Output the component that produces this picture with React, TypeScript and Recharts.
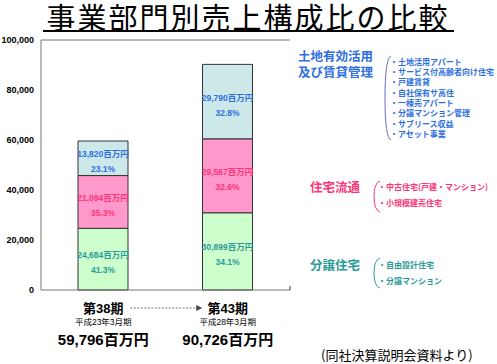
import {
  ComposedChart,
  Bar,
  XAxis,
  YAxis,
  LabelList,
  ReferenceLine,
} from "recharts";

const periods = ["第38期", "第43期"];
const periodDates = ["平成23年3月期", "平成28年3月期"];
const periodTotals = ["59,796百万円", "90,726百万円"];

// 分譲住宅 / 住宅流通 / 土地有効活用及び賃貸管理 (百万円)
const bunjo = [24684, 30899];
const ryutsu = [21094, 29567];
const chintai = [13820, 29790];
const bunjoPct = [41.3, 34.1];
const ryutsuPct = [35.3, 32.6];
const chintaiPct = [23.1, 32.8];

const yTicks = [0, 20000, 40000, 60000, 80000, 100000];

const chintaiTitle = ["土地有効活用", "及び賃貸管理"];
const chintaiItems = [
  "・土地活用アパート",
  "・サービス付高齢者向け住宅",
  "・戸建賃貸",
  "・自社保有サ高住",
  "・一棟売アパート",
  "・分譲マンション管理",
  "・サブリース収益",
  "・アセット事業",
];
const ryutsuItems = ["・中古住宅(戸建・マンション)", "・小規模建売住宅"];
const bunjoItems = ["・自由設計住宅", "・分譲マンション"];

const data = periods.map((p, i) => ({
  name: p,
  bunjo: bunjo[i],
  ryutsu: ryutsu[i],
  chintai: chintai[i],
}));

const FONT = '"Liberation Sans", "Noto Sans CJK JP", sans-serif';
const JP = '"Noto Sans CJK JP", sans-serif';

const fmt = (v: number) => v.toLocaleString("en-US");

function segLabel(values: number[], pcts: number[], color: string) {
  return (props: any) => {
    const { x, y, width, height, index } = props;
    const cx = x + width / 2;
    const cy = y + height / 2;
    return (
      <g fontFamily={FONT} fontSize={8.5} fontWeight="bold" fill={color}>
        <text x={cx} y={cy - 4} textAnchor="middle" dominantBaseline="central">
          {fmt(values[index])}百万円
        </text>
        <text x={cx} y={cy + 11} textAnchor="middle" dominantBaseline="central">
          {pcts[index].toFixed(1)}%
        </text>
      </g>
    );
  };
}

function PeriodTick(props: any) {
  const { x, y, payload } = props;
  const i = payload.index;
  return (
    <g fontFamily={FONT} fill="#000">
      <text x={x} y={y + 16} textAnchor="middle" dominantBaseline="central" fontSize={13} fontWeight="bold">
        {periods[i]}
      </text>
      <text x={x} y={y + 30} textAnchor="middle" dominantBaseline="central" fontSize={8.5}>
        {periodDates[i]}
      </text>
      <text x={x} y={y + 47} textAnchor="middle" dominantBaseline="central" fontSize={15} fontWeight="bold">
        {periodTotals[i]}
      </text>
      {i === 0 && (
        <g>
          <line x1={x + 27} y1={y + 16} x2={x + 94} y2={y + 16} stroke="#777" strokeDasharray="2 1.5" />
          <polygon points={`${x + 99},${y + 16} ${x + 93},${y + 13} ${x + 93},${y + 19}`} fill="#444" />
        </g>
      )}
    </g>
  );
}

function Bracket({ left, top, height, color }: { left: number; top: number; height: number; color: string }) {
  return (
    <svg style={{ position: "absolute", left, top }} width={8} height={height}>
      <path
        d={`M7,1 Q1,3 1,${height / 2} Q1,${height - 3} 7,${height - 1}`}
        fill="none"
        stroke={color}
        strokeWidth={1}
      />
    </svg>
  );
}

function ItemList({ items, left, top, step, color, size = 8, bold = true }: { items: string[]; left: number; top: number; step: number; color: string; size?: number; bold?: boolean }) {
  return (
    <>
      {items.map((t, i) => (
        <div
          key={t}
          style={{
            position: "absolute",
            left,
            top: top + i * step - step / 2,
            height: step,
            lineHeight: `${step}px`,
            fontSize: size,
            fontWeight: bold ? "bold" : "normal",
            color,
            fontFamily: JP,
            whiteSpace: "nowrap",
          }}
        >
          {t}
        </div>
      ))}
    </>
  );
}

const top1 = bunjo[0];
const top2 = bunjo[1];
const mid1 = bunjo[0] + ryutsu[0];
const mid2 = bunjo[1] + ryutsu[1];
const tot1 = mid1 + chintai[0];
const tot2 = mid2 + chintai[1];

export default function App() {
  const blue = "#2f6fe0";
  const pink = "#ff3377";
  const teal = "#2a9a9a";
  return (
    <div style={{ position: "absolute", left: 0, top: 0, width: 497, height: 364, background: "#fff", overflow: "hidden" }}>
      <div
        style={{
          position: "absolute",
          left: 42,
          top: 0,
          width: 412,
          height: 32,
          lineHeight: "32px",
          textAlign: "center",
          fontFamily: JP,
          fontSize: 29,
          fontWeight: 400,
          letterSpacing: 2,
          color: "#000",
          whiteSpace: "nowrap",
        }}
      >
        事業部門別売上構成比の比較
      </div>
      <div style={{ position: "absolute", left: 43, top: 30, width: 411, height: 2, background: "#000" }} />
      <div style={{ position: "absolute", left: 0, top: 0 }}>
        <ComposedChart width={497} height={364} data={data} margin={{ top: 40, right: 207, bottom: 0, left: 0 }}>
          <XAxis
            xAxisId="c"
            dataKey="name"
            axisLine={false}
            tickLine={false}
            tickSize={0}
            height={74}
            interval={0}
            tick={<PeriodTick />}
          />
          <XAxis xAxisId="n" type="number" domain={[0, 2]} hide allowDataOverflow />
          <YAxis
            domain={[0, 100000]}
            ticks={yTicks}
            width={41}
            axisLine={false}
            tickLine={false}
            tickSize={0}
            tickMargin={7}
            tickFormatter={fmt}
            tick={{ fontSize: 9, fontWeight: "bold", fill: "#000", fontFamily: FONT }}
            interval={0}
          />
          {/* plot frame */}
          <ReferenceLine xAxisId="n" y={100000} stroke="#777" />
          <ReferenceLine xAxisId="n" y={0} stroke="#777" />
          <ReferenceLine xAxisId="n" x={0} stroke="#777" />
          <ReferenceLine xAxisId="n" x={2} stroke="#777" />
          <Bar xAxisId="c" dataKey="bunjo" stackId="s" fill="#ccffcc" stroke="#333" strokeWidth={1} barSize={50} isAnimationActive={false}>
            <LabelList content={segLabel(bunjo, bunjoPct, teal)} />
          </Bar>
          <Bar xAxisId="c" dataKey="ryutsu" stackId="s" fill="#ff99cc" stroke="#333" strokeWidth={1} barSize={50} isAnimationActive={false}>
            <LabelList content={segLabel(ryutsu, ryutsuPct, pink)} />
          </Bar>
          <Bar xAxisId="c" dataKey="chintai" stackId="s" fill="#cce8e8" stroke="#333" strokeWidth={1} barSize={50} isAnimationActive={false}>
            <LabelList content={segLabel(chintai, chintaiPct, blue)} />
          </Bar>
          <ReferenceLine xAxisId="n" segment={[{ x: 0.7, y: tot1 }, { x: 1.3, y: tot2 }]} stroke="#aaa" strokeWidth={1} />
          <ReferenceLine xAxisId="n" segment={[{ x: 0.7, y: mid1 }, { x: 1.3, y: mid2 }]} stroke="#666" strokeDasharray="2 1.5" strokeWidth={1} />
          <ReferenceLine xAxisId="n" segment={[{ x: 0.7, y: top1 }, { x: 1.3, y: top2 }]} stroke="#666" strokeDasharray="2 1.5" strokeWidth={1} />
          <ReferenceLine xAxisId="n" segment={[{ x: 0.7, y: 0 }, { x: 1.3, y: 0 }]} stroke="#333" strokeDasharray="2 1" strokeWidth={2} />
          <ReferenceLine xAxisId="n" segment={[{ x: 1, y: 0 }, { x: 1, y: 1600 }]} stroke="#333" strokeWidth={1} />
        </ComposedChart>
      </div>

      {/* legend: 土地有効活用及び賃貸管理 */}
      <ItemList items={chintaiTitle} left={298} top={56} step={16} color={blue} size={12.5} />
      <Bracket left={384} top={55} height={86} color="#6a6ad0" />
      <ItemList items={chintaiItems} left={390} top={62} step={10.3} color={blue} />

      {/* 住宅流通 */}
      <ItemList items={["住宅流通"]} left={310} top={187} step={16} color={pink} size={12.5} />
      <Bracket left={373} top={180} height={33} color={pink} />
      <ItemList items={ryutsuItems} left={378} top={187} step={16} color={pink} />

      {/* 分譲住宅 */}
      <ItemList items={["分譲住宅"]} left={310} top={265} step={16} color={teal} size={12.5} />
      <Bracket left={373} top={257} height={32} color={teal} />
      <ItemList items={bunjoItems} left={378} top={265} step={16} color={teal} />

      <ItemList items={["(同社決算説明会資料より)"]} left={321} top={355} step={16} color="#000" size={13} bold={false} />
    </div>
  );
}
